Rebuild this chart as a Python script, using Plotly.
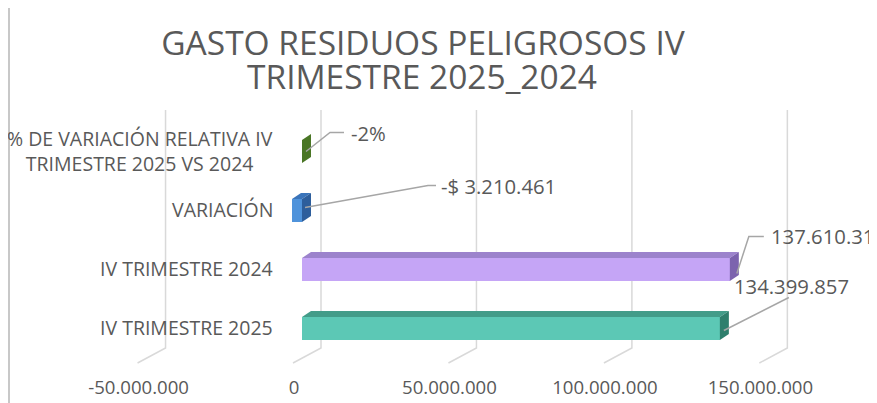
import plotly.graph_objects as go

# ---------------- data ----------------
categories = [
    "IV TRIMESTRE 2025",
    "IV TRIMESTRE 2024",
    "VARIACIÓN",
    "% DE VARIACIÓN RELATIVA IV<br>TRIMESTRE 2025 VS 2024",
]
values = [134399857, 137610318, -3210461, -0.02]
value_labels = ["134.399.857", "137.610.318", "-$ 3.210.461", "-2%"]
tick_vals = [-50000000, 0, 50000000, 100000000, 150000000]
tick_text = ["-50.000.000", "0", "50.000.000", "100.000.000", "150.000.000"]
chart_title_1 = "GASTO RESIDUOS PELIGROSOS IV"
chart_title_2 = "TRIMESTRE 2025_2024"

# ---------------- styles ----------------
front_colors = ["#5CC8B5", "#C5A5F6", "#4F93DB", "#6C9E3A"]
top_colors = ["#439C89", "#9C83CC", "#3A74BA", "#5B8A2E"]
side_colors = ["#2F7F6D", "#7C63AE", "#2D5E9C", "#4A7625"]
text_grey = "#595959"
FONT = "Open Sans"

W, H = 877, 403
OFF = 8  # page body margin: picture pixel = figure pixel + OFF
# plot area in picture pixels
P_LEFT, P_RIGHT, P_TOP, P_BOTTOM = 131, 815, 122, 358
ML = P_LEFT - OFF
MR = W - (P_RIGHT - OFF)
MT = P_TOP - OFF
MB = H - (P_BOTTOM - OFF)
x_range = [-55000000, 165000000]
y_range = [-0.5, 3.5]
plot_w = P_RIGHT - P_LEFT
plot_h = P_BOTTOM - P_TOP
px_per_x = plot_w / (x_range[1] - x_range[0])
px_per_y = plot_h / (y_range[1] - y_range[0])
bar_w = 0.39
depth_px = (9, 6)
ddx = depth_px[0] / px_per_x
ddy = depth_px[1] / px_per_y


def pxx(p):
    """picture x pixel -> paper x"""
    return (p - P_LEFT) / plot_w


def pxy(p):
    """picture y pixel -> paper y"""
    return (P_BOTTOM - p) / plot_h


ypos = list(range(len(categories)))

fig = go.Figure()
fig.add_trace(go.Bar(
    x=values, y=ypos, orientation="h", width=bar_w,
    marker=dict(color=front_colors, line=dict(width=0)),
    hoverinfo="skip", showlegend=False,
))

shapes = []
# back-wall gridlines + floor diagonals (3-D look)
for t in tick_vals:
    shapes.append(dict(type="path", xref="x", yref="paper", layer="below",
                       xsizemode="pixel", xanchor=t, ysizemode="pixel", yanchor=0,
                       path="M -9,-5 L 19,10 L 19,248",
                       line=dict(color="#D9D9D9", width=1.5)))

# 3-D faces of the bars
for i, v in enumerate(values):
    lo, hi = min(v, 0), max(v, 0)
    yt = i + bar_w / 2
    yb = i - bar_w / 2
    shapes.append(dict(type="path", xref="x", yref="y", layer="above",
                       path=f"M {lo},{yt} L {hi},{yt} L {hi + ddx},{yt + ddy} L {lo + ddx},{yt + ddy} Z",
                       fillcolor=top_colors[i], line=dict(width=0)))
    shapes.append(dict(type="path", xref="x", yref="y", layer="above",
                       path=f"M {hi},{yb} L {hi},{yt} L {hi + ddx},{yt + ddy} L {hi + ddx},{yb + ddy} Z",
                       fillcolor=side_colors[i], line=dict(width=0)))

# leader lines (pixel offsets from bar end) and label offsets
leader_paths = [
    "M 4,-2 L 69,31",
    "M 7,-4 L 19,33 L 34,33",
    "M 3,3 L 126,25 L 134,25",
    "M 4,0 L 28,19 L 42,19",
]
label_shift = [(12, 43), (39, 34), (137, 25), (47, 19)]
annotations = []
for i, v in enumerate(values):
    hi = max(v, 0)
    shapes.append(dict(type="path", xref="x", yref="y", layer="above",
                       xsizemode="pixel", xanchor=hi, ysizemode="pixel", yanchor=i,
                       path=leader_paths[i], line=dict(color="#A6A6A6", width=1.5)))
    annotations.append(dict(x=hi, y=i, xref="x", yref="y", text=value_labels[i],
                            showarrow=False, xanchor="left", yanchor="middle",
                            xshift=label_shift[i][0], yshift=label_shift[i][1],
                            font=dict(family=FONT, size=20.3, color=text_grey)))

# category labels (left of the zero line)
for i, c in enumerate(categories):
    annotations.append(dict(x=0, y=i, xref="x", yref="y", text=c, showarrow=False,
                            xanchor="right", yanchor="middle", align="center",
                            xshift=-27, yshift=1,
                            font=dict(family=FONT, size=19.5, color=text_grey)))

# title second line
annotations.append(dict(x=pxx(422), y=pxy(76), xref="paper", yref="paper",
                        text=chart_title_2, showarrow=False, xanchor="center", yanchor="middle",
                        font=dict(family=FONT, size=33.5, color=text_grey)))

# chart-area left border
shapes.append(dict(type="line", xref="paper", yref="paper", x0=pxx(OFF + 1), x1=pxx(OFF + 1),
                   y0=pxy(OFF), y1=pxy(H + 4), line=dict(color="#C8C8C8", width=2)))

fig.update_layout(
    width=W, height=H,
    margin=dict(l=ML, r=MR, t=MT, b=MB, pad=0),
    paper_bgcolor="white", plot_bgcolor="white",
    title=dict(text=chart_title_1, x=(423 - OFF) / W, xref="container", xanchor="center",
               y=1 - (43 - OFF) / H, yref="container", yanchor="middle",
               font=dict(family=FONT, size=33.5, color=text_grey)),
    xaxis=dict(range=x_range, tickvals=tick_vals, ticktext=tick_text,
               showgrid=False, zeroline=False, showline=False, ticks="",
               ticklabelstandoff=16, ticklabelshift=-8,
               tickfont=dict(family=FONT, size=18.6, color=text_grey)),
    yaxis=dict(range=y_range, showgrid=False, zeroline=False, showline=False,
               showticklabels=False, ticks=""),
    shapes=shapes,
    annotations=annotations,
    bargap=0,
    showlegend=False,
)

fig.write_html("out.html")
